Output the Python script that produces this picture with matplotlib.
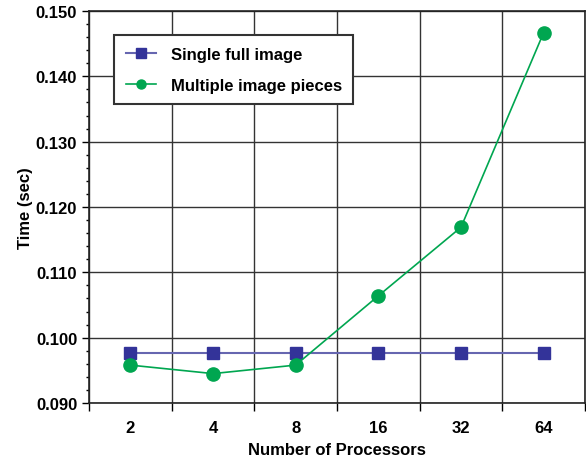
import matplotlib
matplotlib.use("Agg")
import matplotlib.pyplot as plt
from matplotlib.ticker import MultipleLocator, FixedLocator

categories = ["2", "4", "8", "16", "32", "64"]
single_full = [0.0977, 0.0977, 0.0977, 0.0977, 0.0977, 0.0977]
multiple_pieces = [0.0958, 0.0945, 0.0958, 0.1064, 0.1169, 0.1467]

plt.rcParams['font.family'] = ['Liberation Sans', 'DejaVu Sans']
plt.rcParams['font.weight'] = 'bold'

fig = plt.figure(figsize=(5.86, 4.6), dpi=100)
ax = fig.add_axes([89/586, 1 - 404/460, (585 - 89)/586, (404 - 12)/460])

x = list(range(1, len(categories) + 1))
ax.plot(x, single_full, color='#6666b0', lw=1.5, marker='s', ms=9,
        mfc='#333399', mec='#333399', label='Single full image', zorder=3)
ax.plot(x, multiple_pieces, color='#00a650', lw=1.2, marker='o', ms=9.5,
        mfc='#00a650', mec='#00a650', label='Multiple image pieces', zorder=3)

ax.set_xlim(0.5, 6.5)
ax.set_ylim(0.090, 0.150)
ax.set_xticks(x)
ax.set_xticklabels(categories)
ax.xaxis.set_minor_locator(FixedLocator([i + 0.5 for i in range(0, 7)]))
ax.tick_params(axis='x', which='major', length=0, pad=12, labelsize=12)
ax.tick_params(axis='x', which='minor', length=6, width=1, direction='out')
ax.yaxis.set_major_locator(MultipleLocator(0.01))
ax.yaxis.set_minor_locator(MultipleLocator(0.002))
ax.set_yticklabels([f"{v:.3f}" for v in ax.get_yticks()])
ax.tick_params(axis='y', which='major', length=5, width=1, direction='out', labelsize=12, pad=3.5)
ax.tick_params(axis='y', which='minor', length=2.5, width=1, direction='out')

ax.grid(True, which='major', axis='y', color='#333333', lw=1)
ax.grid(True, which='minor', axis='x', color='#333333', lw=1)
for s in ax.spines.values():
    s.set_linewidth(1.2)
    s.set_color('#222222')

ax.set_xlabel('Number of Processors', fontsize=12, fontweight='bold', labelpad=5)
ax.set_ylabel('Time (sec)', fontsize=12, fontweight='bold', labelpad=2)

leg = ax.legend(loc='upper left', bbox_to_anchor=((114 - 89) / 496, 1 - (36 - 12) / 392),
                frameon=True, fancybox=False, fontsize=12, borderpad=0.7,
                labelspacing=0.95, handlelength=1.8, handletextpad=0.9, borderaxespad=0)
leg.get_frame().set_edgecolor('#333333')
leg.get_frame().set_linewidth(1.5)
leg.get_frame().set_alpha(1)
for h in leg.legend_handles:
    h.set_markersize(6.5)

fig.savefig('out.png', dpi=100)
